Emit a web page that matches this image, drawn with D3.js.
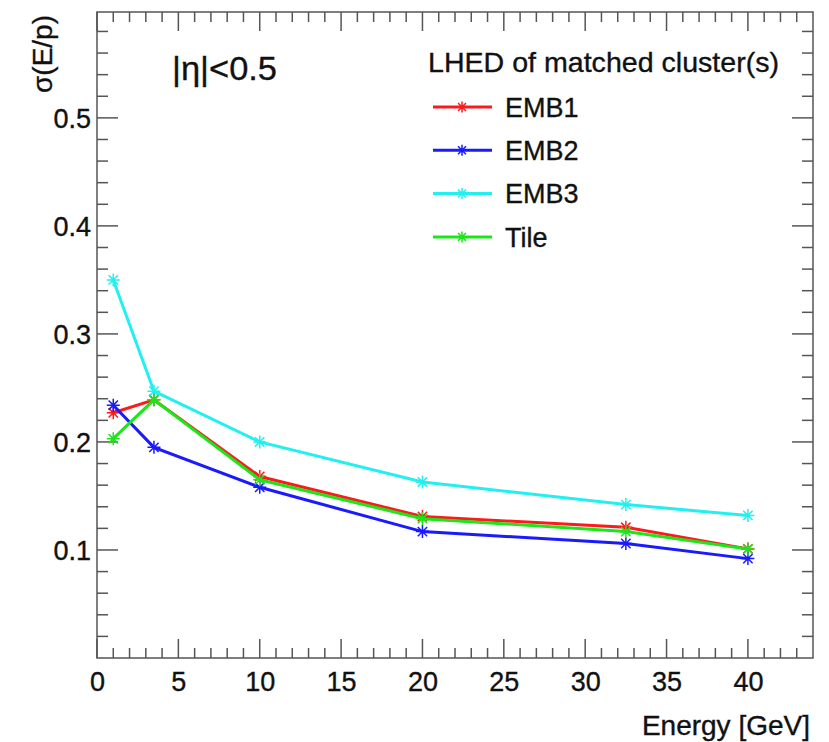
<!DOCTYPE html>
<meta charset="utf-8">
<style>
body { margin: 0; background: #fff; }
text {
  font-family: "Liberation Sans", Arial, sans-serif;
  fill: #111;
  stroke: #111;
  stroke-width: 0.35px;
}
.frame { fill: none; stroke: #555; stroke-width: 1.5px; }
.series path.line { fill: none; stroke-width: 3px; }
.series path.mark { fill: none; stroke-width: 1.5px; }
</style>
<svg width="829" height="742"></svg>
<script src="https://d3js.org/d3.v7.min.js"></script>
<script>

// beam energies [GeV]
var energy = [1, 3.5, 10, 20, 32.5, 40];

// sigma(E/p) per layer with the highest energy density
var emb1 = [0.227, 0.239, 0.168, 0.131, 0.121, 0.101];
var emb2 = [0.234, 0.195, 0.158, 0.117, 0.106, 0.092];
var emb3 = [0.350, 0.247, 0.200, 0.163, 0.142, 0.132];
var tile = [0.203, 0.239, 0.165, 0.129, 0.117, 0.101];

var seriesNames  = ["EMB1", "EMB2", "EMB3", "Tile"];
var seriesColors = ["#ff1a1a", "#1a1aff", "#22f0f0", "#1ae61a"];

var xTicks = [0, 5, 10, 15, 20, 25, 30, 35, 40];
var yTicks = [0.1, 0.2, 0.3, 0.4, 0.5];

var series = [emb1, emb2, emb3, tile].map(function(vals, i) {
  return {
    name: seriesNames[i],
    color: seriesColors[i],
    points: vals.map(function(v, j) { return [energy[j], v]; })
  };
});

var svg = d3.select("svg"),
    m = {left: 97, top: 12, right: 16, bottom: 84},
    W = +svg.attr("width") - m.left - m.right,
    H = +svg.attr("height") - m.top - m.bottom;

var x = d3.scaleLinear().domain([0, 44]).range([0, W]);
var y = d3.scaleLinear().domain([0, 0.598]).range([H, 0]);

var g = svg.append("g").attr("transform", "translate(" + m.left + "," + m.top + ")");

// ticks on all four sides, ROOT style (inward)
var xMinor = d3.range(0, 44, 1), yMinor = d3.range(0.02, 0.598, 0.02);

function drawTicks(axisG, vals, major, len, orient) {
  axisG.selectAll("line").data(vals).enter().append("line")
    .style("stroke", "#555").style("stroke-width", "1.5px")
    .each(function(d) {
      var isMajor = major.some(function(t) { return Math.abs(t - d) < 1e-6; });
      var l = isMajor ? len[0] : len[1];
      var s = d3.select(this);
      if (orient == "bottom") s.attr("x1", x(d)).attr("x2", x(d)).attr("y1", H).attr("y2", H - l);
      if (orient == "top") s.attr("x1", x(d)).attr("x2", x(d)).attr("y1", 0).attr("y2", l);
      if (orient == "left") s.attr("x1", 0).attr("x2", l).attr("y1", y(d)).attr("y2", y(d));
      if (orient == "right") s.attr("x1", W).attr("x2", W - l).attr("y1", y(d)).attr("y2", y(d));
    });
}
drawTicks(g.append("g"), xMinor, xTicks, [19, 10], "bottom");
drawTicks(g.append("g"), xMinor, xTicks, [19, 10], "top");
drawTicks(g.append("g"), yMinor, yTicks, [21, 11], "left");
drawTicks(g.append("g"), yMinor, yTicks, [21, 11], "right");

g.append("rect").attr("class", "frame").attr("width", W).attr("height", H);

// tick labels through d3 axes (tick lines hidden)
var xAxis = g.append("g").attr("transform", "translate(0," + H + ")")
  .call(d3.axisBottom(x).tickValues(xTicks).tickSize(0).tickPadding(10).tickFormat(d3.format("d")));
var yAxis = g.append("g")
  .call(d3.axisLeft(y).tickValues(yTicks).tickSize(0).tickPadding(6).tickFormat(d3.format(".1f")));
[xAxis, yAxis].forEach(function(a) {
  a.select(".domain").remove();
  a.selectAll("text").style("font-size", "27px").style("font-family", "Liberation Sans, Arial, sans-serif")
    .attr("fill", "#111").attr("stroke", "#111").attr("stroke-width", 0.35);
});
xAxis.selectAll("text").attr("dy", "0.85em");
yAxis.selectAll("text").attr("dy", "0.36em");

// axis titles
svg.append("text")
  .attr("x", 810).attr("y", 735)
  .attr("text-anchor", "end")
  .style("font-size", "28px")
  .text("Energy [GeV]");

svg.append("text")
  .attr("transform", "translate(52,15) rotate(-90)")
  .attr("text-anchor", "end")
  .style("font-size", "28px")
  .text("σ(E/p)");

// star marker as ROOT draws it
function star(s) {
  var r = s / 2, d = r * 0.72;
  return "M" + (-r) + ",0L" + r + ",0M0," + (-r) + "L0," + r +
         "M" + (-d) + "," + (-d) + "L" + d + "," + d +
         "M" + (-d) + "," + d + "L" + d + "," + (-d);
}

var line = d3.line().x(function(d) { return x(d[0]); }).y(function(d) { return y(d[1]); });

var sg = g.selectAll(".series").data(series).enter().append("g").attr("class", "series");
sg.append("path").attr("class", "line")
  .attr("d", function(d) { return line(d.points); })
  .style("stroke", function(d) { return d.color; });
sg.each(function(s) {
  d3.select(this).selectAll(".mark").data(s.points).enter().append("path")
    .attr("class", "mark")
    .attr("transform", function(d) { return "translate(" + x(d[0]) + "," + y(d[1]) + ")"; })
    .attr("d", star(13))
    .style("stroke", s.color);
});

// eta label
svg.append("text")
  .attr("x", 172).attr("y", 80)
  .style("font-size", "34px")
  .attr("textLength", 105).attr("lengthAdjust", "spacingAndGlyphs")
  .text("|η|<0.5");

// legend
var leg = svg.append("g").attr("transform", "translate(428,0)");
leg.append("text").attr("x", 0).attr("y", 72).style("font-size", "28px")
  .attr("textLength", 351).attr("lengthAdjust", "spacingAndGlyphs")
  .text("LHED of matched cluster(s)");
var li = leg.selectAll(".li").data(series).enter().append("g")
  .attr("class", "li")
  .attr("transform", function(d, i) { return "translate(0," + (107 + i * 43.3) + ")"; });
li.append("line").attr("x1", 5).attr("x2", 64)
  .style("stroke", function(d) { return d.color; }).style("stroke-width", "3px");
li.append("path").attr("transform", "translate(34,0)").attr("d", star(11))
  .style("fill", "none").style("stroke-width", "1.5px")
  .style("stroke", function(d) { return d.color; });
li.append("text").attr("x", 77).attr("dy", "0.36em").style("font-size", "27px")
  .text(function(d) { return d.name; });

</script>
